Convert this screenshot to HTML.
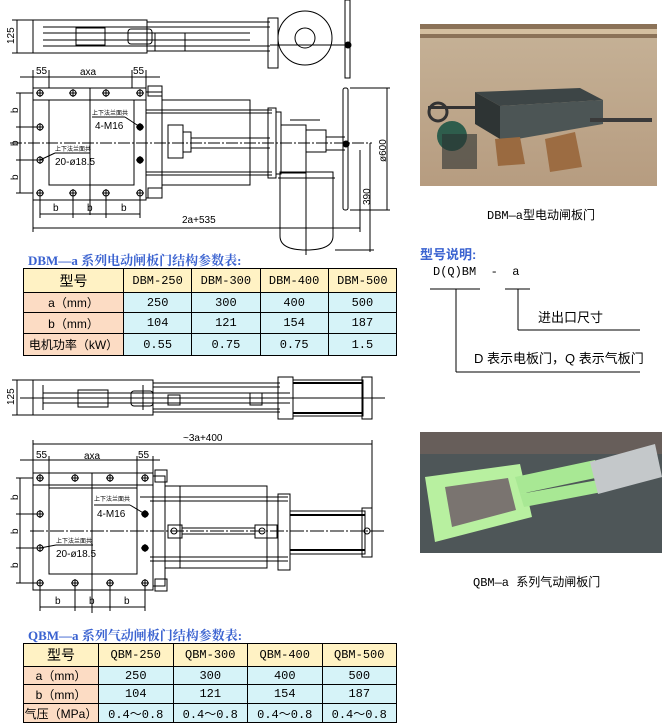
<!DOCTYPE html>
<html><head><meta charset="utf-8">
<style>
body{margin:0;width:666px;height:725px;background:#fff;position:relative;overflow:hidden;font-family:"Liberation Sans","Noto Sans CJK SC",sans-serif}
.abs{position:absolute}
table{border-collapse:collapse;position:absolute;font-family:"Liberation Mono","Noto Sans CJK SC",monospace;font-size:12px}
td{border:1px solid #000;text-align:center;padding:0}
.h{background:#fff2c4}
.f{background:#fcdcc4;font-family:"Liberation Sans","Noto Sans CJK SC",sans-serif}
.d{background:#d6f3f8}
.title{color:#3a62d0;font-weight:bold;font-size:13px;font-family:"Liberation Serif","Noto Serif CJK SC",serif}
.cap{font-size:12px;font-family:"Liberation Mono","Noto Sans CJK SC",monospace}
</style></head><body>

<svg class="abs" style="left:0;top:0" width="410" height="625" viewBox="0 0 410 625" font-family="Liberation Sans, Noto Sans CJK SC, sans-serif" stroke="#000" fill="none" stroke-width="1">
<defs>
<g id="bolt"><circle r="3"/><line x1="-4" y1="0" x2="4" y2="0"/><line x1="0" y1="-4" x2="0" y2="4"/></g>
<g id="boltf"><circle r="3" fill="#000"/><line x1="-4" y1="0" x2="4" y2="0"/><line x1="0" y1="-4" x2="0" y2="4"/></g>
</defs>
<!-- ===== Drawing 1 top view ===== -->
<rect x="33" y="20" width="114" height="33"/>
<line x1="43" y1="27" x2="270" y2="27"/><line x1="43" y1="46" x2="270" y2="46"/>
<line x1="43" y1="33" x2="250" y2="33"/><line x1="43" y1="40" x2="250" y2="40"/>
<rect x="76" y="28" width="29" height="17"/>
<rect x="128" y="29" width="24" height="15" rx="3"/>
<rect x="155" y="33" width="30" height="18"/>
<line x1="147" y1="22" x2="270" y2="22"/><line x1="147" y1="51" x2="270" y2="51"/>
<rect x="268" y="18" width="10" height="50"/>
<circle cx="305" cy="38" r="27"/><circle cx="305" cy="38" r="10"/>
<line x1="270" y1="45" x2="350" y2="45"/>
<rect x="345" y="0" width="5" height="78"/>
<circle cx="348" cy="45" r="3" fill="#000"/>
<line x1="17" y1="20" x2="17" y2="53"/><line x1="12" y1="20" x2="33" y2="20"/><line x1="12" y1="53" x2="33" y2="53"/>
<text x="0" y="0" transform="translate(14,44) rotate(-90)" font-size="10" fill="#000" stroke="none">125</text>
<!-- ===== Drawing 1 front view ===== -->
<line x1="20" y1="77" x2="160" y2="77"/>
<line x1="33" y1="70" x2="33" y2="88"/><line x1="49" y1="70" x2="49" y2="88"/><line x1="132" y1="70" x2="132" y2="88"/><line x1="146" y1="70" x2="146" y2="88"/>
<text x="36" y="74" font-size="10" fill="#000" stroke="none">55</text>
<text x="80" y="75" font-size="10" fill="#000" stroke="none">axa</text>
<text x="133" y="74" font-size="10" fill="#000" stroke="none">55</text>
<rect x="33" y="88" width="113" height="112"/>
<line x1="33" y1="100" x2="146" y2="100"/>
<rect x="49" y="100" width="85" height="85"/>
<line x1="90" y1="88" x2="90" y2="215"/>
<use href="#bolt" x="40" y="93"/><use href="#bolt" x="73" y="93"/><use href="#bolt" x="106" y="93"/><use href="#bolt" x="140" y="93"/>
<use href="#bolt" x="40" y="127"/><use href="#bolt" x="40" y="160"/><use href="#boltf" x="140" y="127"/><use href="#boltf" x="140" y="160"/>
<use href="#bolt" x="40" y="193"/><use href="#bolt" x="73" y="193"/><use href="#bolt" x="106" y="193"/><use href="#bolt" x="140" y="193"/>
<line x1="20" y1="93" x2="20" y2="193"/><line x1="16" y1="127" x2="40" y2="127"/><line x1="16" y1="160" x2="40" y2="160"/><line x1="16" y1="93" x2="33" y2="93"/><line x1="16" y1="193" x2="33" y2="193"/>
<text transform="translate(18,113) rotate(-90)" font-size="10" fill="#000" stroke="none">b</text>
<text transform="translate(18,146) rotate(-90)" font-size="10" fill="#000" stroke="none">b</text>
<text transform="translate(18,180) rotate(-90)" font-size="10" fill="#000" stroke="none">b</text>
<line x1="40" y1="214" x2="140" y2="214"/>
<line x1="40" y1="193" x2="40" y2="218"/><line x1="73" y1="193" x2="73" y2="218"/><line x1="106" y1="193" x2="106" y2="218"/><line x1="140" y1="193" x2="140" y2="218"/>
<text x="53" y="211" font-size="10" fill="#000" stroke="none">b</text><text x="87" y="211" font-size="10" fill="#000" stroke="none">b</text><text x="121" y="211" font-size="10" fill="#000" stroke="none">b</text>
<text x="92" y="115" font-size="6" fill="#000" stroke="none">上下法兰面共</text>
<line x1="92" y1="117" x2="125" y2="117"/><line x1="125" y1="117" x2="140" y2="127"/>
<text x="95" y="129" font-size="10" fill="#000" stroke="none">4-M16</text>
<text x="55" y="151" font-size="6" fill="#000" stroke="none">上下法兰面共</text>
<line x1="55" y1="153" x2="90" y2="153"/><line x1="55" y1="153" x2="40" y2="160"/>
<text x="55" y="165" font-size="10" fill="#000" stroke="none">20-ø18.5</text>
<rect x="146" y="92" width="16" height="106"/>
<rect x="148" y="86" width="14" height="10"/><rect x="148" y="188" width="14" height="10"/>
<rect x="162" y="100" width="88" height="85"/>
<line x1="146" y1="110" x2="272" y2="110"/><line x1="146" y1="113" x2="272" y2="113"/>
<line x1="146" y1="172" x2="272" y2="172"/><line x1="146" y1="175" x2="272" y2="175"/>
<rect x="168" y="125" width="15" height="33"/>
<rect x="183" y="132" width="8" height="20"/>
<line x1="191" y1="138" x2="270" y2="138"/><line x1="191" y1="148" x2="270" y2="148"/>
<rect x="268" y="108" width="8" height="70"/>
<rect x="276" y="112" width="5" height="62"/>
<rect x="281" y="125" width="25" height="48"/>
<line x1="290" y1="120" x2="320" y2="120"/>
<rect x="306" y="130" width="20" height="22"/>
<line x1="326" y1="137" x2="345" y2="137"/><line x1="326" y1="150" x2="345" y2="150"/>
<path d="M280 172 H333 V236 Q333 250 306 250 Q280 250 280 236 Z"/>
<line x1="278" y1="178" x2="335" y2="178"/>
<rect x="343" y="88" width="5" height="122" rx="2"/>
<circle cx="346" cy="144" r="3" fill="#000"/>
<line x1="10" y1="143" x2="372" y2="143" stroke-dasharray="12 2 2 2"/>
<line x1="306" y1="125" x2="306" y2="255"/>
<line x1="33" y1="200" x2="33" y2="232"/><line x1="360" y1="150" x2="360" y2="232"/>
<line x1="33" y1="228" x2="360" y2="228"/>
<text x="182" y="223" font-size="10" fill="#000" stroke="none">2a+535</text>
<line x1="370" y1="143" x2="370" y2="252"/><line x1="335" y1="250" x2="374" y2="250"/>
<text transform="translate(370,205) rotate(-90)" font-size="10" fill="#000" stroke="none">390</text>
<line x1="387" y1="88" x2="387" y2="210"/><line x1="350" y1="88" x2="390" y2="88"/><line x1="350" y1="210" x2="390" y2="210"/>
<text transform="translate(386,162) rotate(-90)" font-size="10" fill="#000" stroke="none">ø600</text>

<!-- ===== Drawing 2 top view ===== -->
<rect x="33" y="380" width="120" height="35"/>
<line x1="43" y1="385" x2="43" y2="410"/><line x1="143" y1="385" x2="143" y2="410"/>
<line x1="43" y1="393" x2="290" y2="393"/><line x1="43" y1="403" x2="290" y2="403"/>
<rect x="78" y="390" width="30" height="17"/>
<rect x="131" y="391" width="22" height="15" rx="3"/>
<line x1="153" y1="383" x2="280" y2="383"/><line x1="153" y1="412" x2="280" y2="412"/>
<line x1="153" y1="387" x2="280" y2="387"/><line x1="153" y1="409" x2="280" y2="409"/>
<rect x="168" y="395" width="12" height="10"/><rect x="250" y="393" width="12" height="12"/>
<rect x="278" y="377" width="15" height="42"/>
<rect x="293" y="380" width="70" height="36"/>
<line x1="293" y1="383" x2="363" y2="383" stroke-width="2"/><line x1="293" y1="413" x2="363" y2="413" stroke-width="2"/>
<rect x="362" y="377" width="10" height="42"/>
<line x1="20" y1="398" x2="385" y2="398"/>
<line x1="17" y1="380" x2="17" y2="415"/><line x1="12" y1="380" x2="33" y2="380"/><line x1="12" y1="415" x2="33" y2="415"/>
<text transform="translate(14,405) rotate(-90)" font-size="10" fill="#000" stroke="none">125</text>
<!-- ===== Drawing 2 front view ===== -->
<line x1="33" y1="444" x2="372" y2="444"/><line x1="33" y1="440" x2="33" y2="473"/><line x1="372" y1="440" x2="372" y2="515"/>
<text x="183" y="441" font-size="10" fill="#000" stroke="none">~3a+400</text>
<line x1="20" y1="460" x2="160" y2="460"/>
<line x1="49" y1="456" x2="49" y2="489"/><line x1="137" y1="456" x2="137" y2="489"/><line x1="153" y1="456" x2="153" y2="473"/>
<text x="36" y="458" font-size="10" fill="#000" stroke="none">55</text>
<text x="84" y="459" font-size="10" fill="#000" stroke="none">axa</text>
<text x="138" y="458" font-size="10" fill="#000" stroke="none">55</text>
<rect x="33" y="473" width="120" height="117"/>
<line x1="33" y1="485" x2="153" y2="485"/>
<rect x="49" y="488" width="88" height="86"/>
<line x1="92" y1="473" x2="92" y2="613"/>
<use href="#bolt" x="40" y="478"/><use href="#bolt" x="75" y="478"/><use href="#bolt" x="110" y="478"/><use href="#bolt" x="145" y="478"/>
<use href="#bolt" x="40" y="514"/><use href="#bolt" x="40" y="548"/><use href="#boltf" x="145" y="514"/><use href="#boltf" x="145" y="548"/>
<use href="#bolt" x="40" y="583"/><use href="#bolt" x="75" y="583"/><use href="#bolt" x="110" y="583"/><use href="#bolt" x="145" y="583"/>
<line x1="20" y1="478" x2="20" y2="583"/><line x1="16" y1="514" x2="40" y2="514"/><line x1="16" y1="548" x2="40" y2="548"/><line x1="16" y1="478" x2="33" y2="478"/><line x1="16" y1="583" x2="40" y2="583"/>
<text transform="translate(18,500) rotate(-90)" font-size="10" fill="#000" stroke="none">b</text>
<text transform="translate(18,534) rotate(-90)" font-size="10" fill="#000" stroke="none">b</text>
<text transform="translate(18,568) rotate(-90)" font-size="10" fill="#000" stroke="none">b</text>
<line x1="40" y1="607" x2="145" y2="607"/>
<line x1="40" y1="583" x2="40" y2="611"/><line x1="75" y1="583" x2="75" y2="611"/><line x1="110" y1="583" x2="110" y2="611"/><line x1="145" y1="583" x2="145" y2="611"/>
<text x="55" y="604" font-size="10" fill="#000" stroke="none">b</text><text x="89" y="604" font-size="10" fill="#000" stroke="none">b</text><text x="124" y="604" font-size="10" fill="#000" stroke="none">b</text>
<text x="94" y="501" font-size="6" fill="#000" stroke="none">上下法兰面共</text>
<line x1="94" y1="505" x2="130" y2="505"/><line x1="130" y1="505" x2="145" y2="514"/>
<text x="97" y="517" font-size="10" fill="#000" stroke="none">4-M16</text>
<text x="56" y="543" font-size="6" fill="#000" stroke="none">上下法兰面共</text>
<line x1="56" y1="545" x2="93" y2="545"/><line x1="56" y1="545" x2="40" y2="548"/>
<text x="56" y="557" font-size="10" fill="#000" stroke="none">20-ø18.5</text>
<rect x="153" y="476" width="12" height="110"/>
<rect x="155" y="470" width="12" height="12"/><rect x="155" y="579" width="12" height="12"/>
<rect x="165" y="486" width="102" height="82"/>
<line x1="180" y1="486" x2="180" y2="568"/>
<line x1="140" y1="497" x2="288" y2="497"/><line x1="150" y1="501" x2="288" y2="501"/>
<line x1="150" y1="557" x2="288" y2="557"/><line x1="150" y1="561" x2="288" y2="561"/>
<rect x="168" y="525" width="14" height="13"/><circle cx="174" cy="531" r="3"/>
<line x1="182" y1="528" x2="255" y2="528"/><line x1="182" y1="534" x2="255" y2="534"/>
<rect x="255" y="525" width="22" height="13"/><circle cx="262" cy="531" r="3"/>
<rect x="278" y="494" width="12" height="76"/>
<rect x="290" y="511" width="75" height="43"/>
<line x1="290" y1="515" x2="365" y2="515" stroke-width="2"/><line x1="290" y1="550" x2="365" y2="550" stroke-width="2"/>
<rect x="362" y="508" width="10" height="49"/>
<circle cx="367" cy="531" r="3"/>
<line x1="30" y1="531" x2="385" y2="531" stroke-dasharray="14 2 2 2"/>
</svg>

<!-- Photo 1 -->
<svg class="abs" style="left:420px;top:24px" width="237" height="162" viewBox="0 0 237 162">
<defs><linearGradient id="g1" x1="0" y1="0" x2="0" y2="1"><stop offset="0" stop-color="#c6b297"/><stop offset="1" stop-color="#b69c80"/></linearGradient></defs>
<rect width="237" height="162" fill="url(#g1)"/>
<rect width="237" height="14" fill="#8b7258"/>
<rect x="0" y="5" width="237" height="5" fill="#d4bfa0"/>
<polygon points="55,68 160,64 183,76 80,82" fill="#3d4546"/>
<polygon points="55,68 80,82 80,115 55,100" fill="#2e3434"/>
<polygon points="80,82 183,76 183,100 80,118" fill="#4c5555"/>
<rect x="8" y="82" width="50" height="3" fill="#333"/>
<circle cx="18" cy="88" r="9" fill="none" stroke="#333" stroke-width="3"/>
<rect x="170" y="94" width="62" height="4" fill="#3a3a3a"/>
<circle cx="32" cy="112" r="15" fill="#2e5d4c"/>
<rect x="22" y="110" width="35" height="35" fill="#2a3030" opacity="0.6"/>
<polygon points="75,115 100,113 105,140 78,142" fill="#9a6a40"/>
<polygon points="125,115 155,108 162,143 130,148" fill="#9c6c42"/>
</svg>
<div class="abs cap" style="left:487px;top:206px">DBM—a型电动闸板门</div>

<!-- Photo 2 -->
<svg class="abs" style="left:420px;top:432px" width="242" height="121" viewBox="0 0 242 121">
<rect width="242" height="121" fill="#4e5658"/>
<rect width="242" height="22" fill="#675e5a"/>
<polygon points="5,45 100,32 112,85 15,110" fill="#b8f0a0"/>
<polygon points="25,55 88,46 96,78 32,95" fill="#7a7470"/>
<polygon points="95,45 175,28 180,45 100,62" fill="#a8e894"/>
<polygon points="100,62 178,48 182,60 104,75" fill="#a8e894"/>
<polygon points="170,30 235,12 242,45 178,62" fill="#c4c8ca"/>
</svg>
<div class="abs cap" style="left:473px;top:573px">QBM—a 系列气动闸板门</div>

<!-- Model explanation -->
<div class="abs title" style="left:420px;top:244px;font-family:'Liberation Sans','Noto Sans CJK SC',sans-serif">型号说明:</div>
<div class="abs cap" style="left:433px;top:265px">D(Q)BM &nbsp;- &nbsp;a</div>
<svg class="abs" style="left:420px;top:280px" width="240" height="100" stroke="#000" stroke-width="1">
<line x1="10" y1="9" x2="60" y2="9"/><line x1="85" y1="9" x2="110" y2="9"/>
<line x1="98" y1="9" x2="98" y2="50"/><line x1="98" y1="50" x2="220" y2="50"/>
<line x1="36" y1="9" x2="36" y2="92"/><line x1="36" y1="92" x2="220" y2="92"/>
</svg>
<div class="abs" style="left:538px;top:307px;font-size:13px">进出口尺寸</div>
<div class="abs" style="left:474px;top:348px;font-size:13px">D 表示电板门，Q 表示气板门</div>

<!-- Table 1 -->
<div class="abs title" style="left:28px;top:250px">DBM—a 系列电动闸板门结构参数表:</div>
<table style="left:23px;top:268px;width:374px">
<tr style="height:24px"><td class="h" style="width:99px;font-family:'Liberation Sans','Noto Sans CJK SC',sans-serif;font-size:14px">型号</td><td class="h">DBM-250</td><td class="h">DBM-300</td><td class="h">DBM-400</td><td class="h">DBM-500</td></tr>
<tr style="height:20px"><td class="f">a（mm）</td><td class="d">250</td><td class="d">300</td><td class="d">400</td><td class="d">500</td></tr>
<tr style="height:21px"><td class="f">b（mm）</td><td class="d">104</td><td class="d">121</td><td class="d">154</td><td class="d">187</td></tr>
<tr style="height:22px"><td class="f" style="font-size:12px">电机功率（kW）</td><td class="d">0.55</td><td class="d">0.75</td><td class="d">0.75</td><td class="d">1.5</td></tr>
</table>

<!-- Table 2 -->
<div class="abs title" style="left:28px;top:625px">QBM—a 系列气动闸板门结构参数表:</div>
<table style="left:23px;top:643px;width:374px">
<tr style="height:23px"><td class="h" style="width:74px;font-family:'Liberation Sans','Noto Sans CJK SC',sans-serif;font-size:14px">型号</td><td class="h">QBM-250</td><td class="h">QBM-300</td><td class="h">QBM-400</td><td class="h">QBM-500</td></tr>
<tr style="height:18px"><td class="f">a（mm）</td><td class="d">250</td><td class="d">300</td><td class="d">400</td><td class="d">500</td></tr>
<tr style="height:19px"><td class="f">b（mm）</td><td class="d">104</td><td class="d">121</td><td class="d">154</td><td class="d">187</td></tr>
<tr style="height:19px"><td class="f" style="font-size:12px">气压（MPa）</td><td class="d">0.4～0.8</td><td class="d">0.4～0.8</td><td class="d">0.4～0.8</td><td class="d">0.4～0.8</td></tr>
</table>
</body></html>
